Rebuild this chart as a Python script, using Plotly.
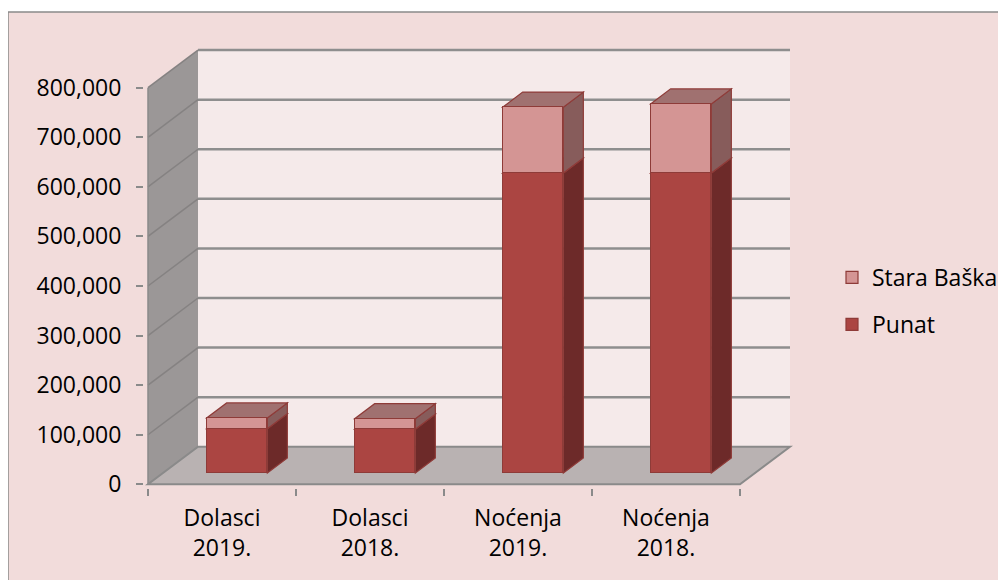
import plotly.graph_objects as go

# ---------------- data ----------------
categories = ["Dolasci<br>2019.", "Dolasci<br>2018.", "Noćenja<br>2019.", "Noćenja<br>2018."]
punat = [89500, 88500, 605000, 605000]
stara_baska = [21500, 21000, 133000, 139500]
y_ticks = [0, 100000, 200000, 300000, 400000, 500000, 600000, 700000, 800000]

# ---------------- styling / geometry (screen px) ----------------
SCREEN_W, SCREEN_H = 1006, 580
BODY = 8                        # default page margin around the figure
W, H = SCREEN_W - BODY, SCREEN_H - BODY
PX_L, PX_R = 148, 740          # front plane x extent (screen px)
PY_0, PY_TOP = 484.3, 87.7     # front plane y of 0 and of max (screen px)
YMAX = 800000
DEPTH_PX = (50.0, 37.6)         # oblique depth vector (px)
BAR_T0, BAR_T1 = 0.30, 0.70     # depth slot of the bars
BAR_W = 0.41
PAD_PX = 4
FONT = "Open Sans"
FS = 23

n = len(categories)
xs = list(range(n))
px_per_cat = (PX_R - PX_L) / n
px_per_val = (PY_0 - PY_TOP) / YMAX
DX = DEPTH_PX[0] / px_per_cat
DY = DEPTH_PX[1] / px_per_val

C_BG = "#F2DCDB"
C_WALL = "#F5EAEA"
C_SIDE = "#9B9797"
C_FLOOR = "#B9B2B2"
C_GRID = "#8E8E8E"
C_AXIS = "#8A8A8A"
C_EDGE = "#8E3B38"
C_PUNAT = ("#AB4542", "#6D2A29", "#8E3F3D")      # front, side, top
C_STARA = ("#D49594", "#875C5B", "#A07170")


def P(x, y, d):
    return x + d * DX, y + d * DY


def poly(points):
    return "M " + " L ".join(f"{x},{y}" for x, y in points) + " Z"


def fx(px):   # screen px -> paper fraction
    return (px - BODY) / W


def fy(py):
    return 1 - (py - BODY) / H


x_lo, x_hi = -0.5, n - 0.5
XR = [x_lo - PAD_PX / px_per_cat, x_hi + DX + PAD_PX / px_per_cat]
YR = [0 - PAD_PX / px_per_val, YMAX + DY + PAD_PX / px_per_val]


def px_x(x):
    return PX_L + (x - x_lo) * px_per_cat


def px_y(y):
    return PY_0 - y * px_per_val


xdom = [fx(px_x(XR[0])), fx(px_x(XR[1]))]
ydom = [fy(px_y(YR[0])), fy(px_y(YR[1]))]
sx, sy = BAR_T0 * DEPTH_PX[0] / W, BAR_T0 * DEPTH_PX[1] / H

shapes = []
# chart area
shapes.append(dict(type="rect", xref="paper", yref="paper", x0=fx(8), x1=1.02,
                   y0=-0.02, y1=fy(12), fillcolor=C_BG,
                   line=dict(color=C_AXIS, width=1.5), layer="below"))
# back wall
shapes.append(dict(type="path", xref="x", yref="y", layer="below",
                   path=poly([P(x_lo, 0, 1), P(x_hi, 0, 1), P(x_hi, YMAX, 1), P(x_lo, YMAX, 1)]),
                   fillcolor=C_WALL, line=dict(width=0)))
# side wall
shapes.append(dict(type="path", xref="x", yref="y", layer="below",
                   path=poly([P(x_lo, 0, 0), P(x_lo, 0, 1), P(x_lo, YMAX, 1), P(x_lo, YMAX, 0)]),
                   fillcolor=C_SIDE, line=dict(width=0)))
# floor
shapes.append(dict(type="path", xref="x", yref="y", layer="below",
                   path=poly([P(x_lo, 0, 0), P(x_hi, 0, 0), P(x_hi, 0, 1), P(x_lo, 0, 1)]),
                   fillcolor=C_FLOOR, line=dict(color=C_AXIS, width=2)))
# gridlines on back wall and side wall
for v in y_ticks[1:]:
    a, b = P(x_lo, v, 1), P(x_hi, v, 1)
    shapes.append(dict(type="line", xref="x", yref="y", layer="below",
                       x0=a[0], y0=a[1], x1=b[0], y1=b[1],
                       line=dict(color=C_GRID, width=2.5)))
    c, d = P(x_lo, v, 0), P(x_lo, v, 1)
    shapes.append(dict(type="line", xref="x", yref="y", layer="below",
                       x0=c[0], y0=c[1], x1=d[0], y1=d[1],
                       line=dict(color="#858282", width=1.5)))
# front value axis line
shapes.append(dict(type="line", xref="x", yref="y", layer="below",
                   x0=x_lo, y0=0, x1=x_lo, y1=YMAX,
                   line=dict(color=C_AXIS, width=1.5)))

# 3D side and top faces of the bars
for i in xs:
    xl, xr = i - BAR_W / 2, i + BAR_W / 2
    segs = [(0, punat[i], C_PUNAT), (punat[i], punat[i] + stara_baska[i], C_STARA)]
    for y0, y1, cols in segs:
        shapes.append(dict(type="path", xref="x", yref="y", layer="below",
                           path=poly([P(xr, y0, BAR_T0), P(xr, y0, BAR_T1),
                                      P(xr, y1, BAR_T1), P(xr, y1, BAR_T0)]),
                           fillcolor=cols[1], line=dict(color=C_EDGE, width=1.2)))
        shapes.append(dict(type="path", xref="x", yref="y", layer="below",
                           path=poly([P(xl, y1, BAR_T0), P(xr, y1, BAR_T0),
                                      P(xr, y1, BAR_T1), P(xl, y1, BAR_T1)]),
                           fillcolor=cols[2], line=dict(color=C_EDGE, width=1.2)))

fig = go.Figure()
fig.add_trace(go.Bar(name="Punat", x=xs, y=punat, xaxis="x2", yaxis="y2", width=BAR_W,
                     legendgroup="p", legendrank=2,
                     marker=dict(color=C_PUNAT[0], line=dict(color=C_EDGE, width=1.2))))
fig.add_trace(go.Bar(name="Stara Baška", x=xs, y=stara_baska, xaxis="x2", yaxis="y2", width=BAR_W,
                     legendgroup="s", legendrank=1,
                     marker=dict(color=C_STARA[0], line=dict(color=C_EDGE, width=1.2))))

fig.update_layout(
    width=W, height=H, margin=dict(l=0, r=0, t=0, b=0, pad=0, autoexpand=False),
    paper_bgcolor="white", plot_bgcolor="rgba(0,0,0,0)",
    barmode="stack", bargap=0,
    font=dict(family=FONT, size=FS, color="#000000"),
    shapes=shapes,
    xaxis=dict(domain=xdom, range=XR, tickvals=xs, ticktext=categories,
               ticks="", showgrid=False, zeroline=False, showline=False,
               automargin=False, ticklabelstandoff=14,
               minor=dict(tickvals=[k - 0.5 for k in range(n + 1)], ticks="outside",
                          ticklen=7, tickcolor=C_AXIS, tickwidth=1.5, showgrid=False)),
    yaxis=dict(domain=ydom, range=YR, tickvals=y_ticks, tickformat=",",
               ticks="outside", ticklen=7, tickcolor=C_AXIS, tickwidth=1.5,
               showgrid=False, zeroline=False, showline=False, automargin=False,
               ticklabelstandoff=10),
    xaxis2=dict(domain=[xdom[0] + sx, xdom[1] + sx], range=XR, visible=False),
    yaxis2=dict(domain=[ydom[0] + sy, ydom[1] + sy], range=YR, visible=False),
    legend=dict(x=fx(832), y=fy(256), xanchor="left", yanchor="top",
                bgcolor="rgba(0,0,0,0)", traceorder="grouped",
                tracegroupgap=14, font=dict(size=FS)),
    showlegend=True,
)

fig.write_html("out.html")
